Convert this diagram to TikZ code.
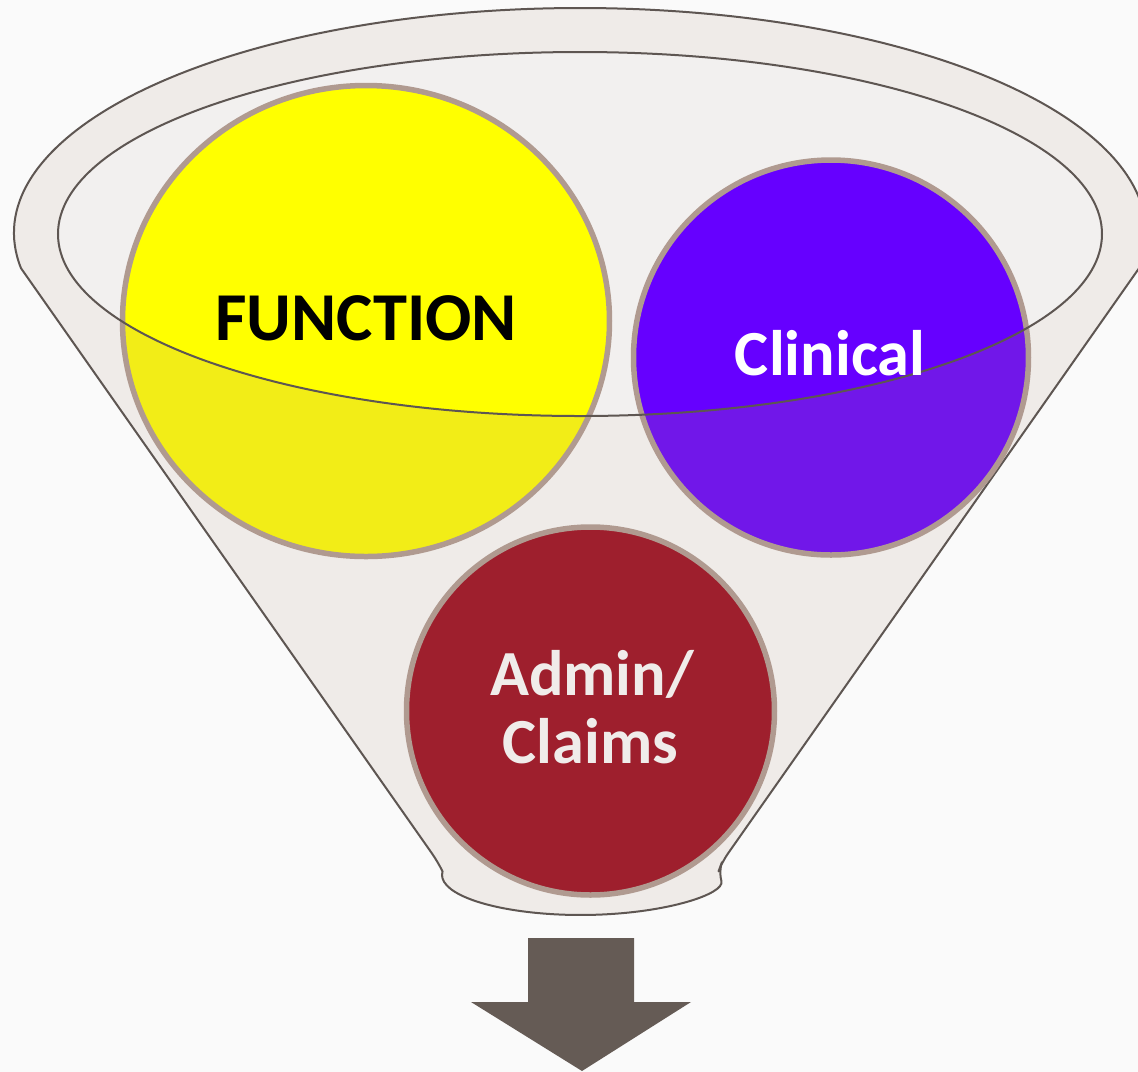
\documentclass[tikz,border=0pt]{standalone}
\usepackage{fontspec}
\setmainfont{Carlito}
\definecolor{bg}{HTML}{FAFAFA}
\definecolor{funnelfill}{HTML}{EFEBE8}
\definecolor{innerfill}{HTML}{F2F0EF}
\definecolor{outlinec}{HTML}{5E5652}
\definecolor{ringc}{HTML}{B09A90}
\definecolor{yel}{HTML}{FFFF00}
\definecolor{yeldark}{HTML}{F2ED17}
\definecolor{pur}{HTML}{6600FF}
\definecolor{purdark}{HTML}{7117E9}
\definecolor{redc}{HTML}{9E1F2D}
\definecolor{arrowc}{HTML}{655B55}
\definecolor{lighttext}{HTML}{F0ECEA}
\begin{document}
\begin{tikzpicture}[x=0.1mm,y=0.1mm,
  funnel/.style={fill=funnelfill,draw=outlinec,line width=0.2mm,line join=round},
  outlinestyle/.style={draw=outlinec,line width=0.2mm},
  ring/.style={draw=ringc,line width=0.55mm},
  bigtext/.style={font=\fontsize{19.5pt}{23pt}\selectfont\bfseries,inner sep=0pt,anchor=base},
  midtext/.style={font=\fontsize{18.3pt}{21pt}\selectfont\bfseries,inner sep=0pt,anchor=base}]
\useasboundingbox (0,0) rectangle (1138,-1072);
\clip (0,0) rectangle (1138,-1072);
\fill[bg] (0,0) rectangle (1138,-1072);
% funnel body
\path[funnel] (21,-268.2) arc[start angle=189,end angle=-9,x radius=566,y radius=225]
  [rounded corners=1mm] -- (722,-862) -- (718.5,-871.5) [sharp corners] arc[start angle=5,end angle=-185,x radius=138.5,y radius=40]
  [rounded corners=1mm] -- (438,-862) [sharp corners] -- cycle;
\fill[innerfill] (580,-234) ellipse[x radius=522,y radius=182];
% yellow circle
\fill[yel] (366,-321) ellipse[x radius=243.5,y radius=235.5];
\begin{scope}
  \clip (366,-321) ellipse[x radius=243.5,y radius=235.5];
  \fill[yeldark,even odd rule] (0,0) rectangle (1138,-1072) (580,-234) ellipse[x radius=522,y radius=182];
\end{scope}
\draw[ring] (366,-321) ellipse[x radius=243.5,y radius=235.5];
% purple circle
\fill[pur] (831,-357.5) circle[radius=197.5];
\begin{scope}
  \clip (831,-357.5) circle[radius=197.5];
  \fill[purdark,even odd rule] (0,0) rectangle (1138,-1072) (580,-234) ellipse[x radius=522,y radius=182];
\end{scope}
\draw[ring] (831,-357.5) circle[radius=197.5];
% red circle
\fill[redc] (590.5,-711) circle[radius=184];
\draw[ring] (590.5,-711) circle[radius=184];
% inner rim outline
\draw[outlinestyle] (580,-234) ellipse[x radius=522,y radius=182];
% labels
\node[bigtext,text=black] (function) at (366,-340) {FUNCTION};
\node[midtext,text=white] (clinical) at (830,-375) {Clinical};
\node[midtext,text=lighttext] (admin) at (592,-695) {Admin/};
\node[midtext,text=lighttext] (claims) at (590.5,-763) {Claims};
% block arrow
\fill[arrowc] (528,-938) -- (634,-938) -- (634,-1002) -- (691,-1002) -- (582,-1071)
  -- (471,-1002) -- (528,-1002) -- cycle;
\end{tikzpicture}
\end{document}
